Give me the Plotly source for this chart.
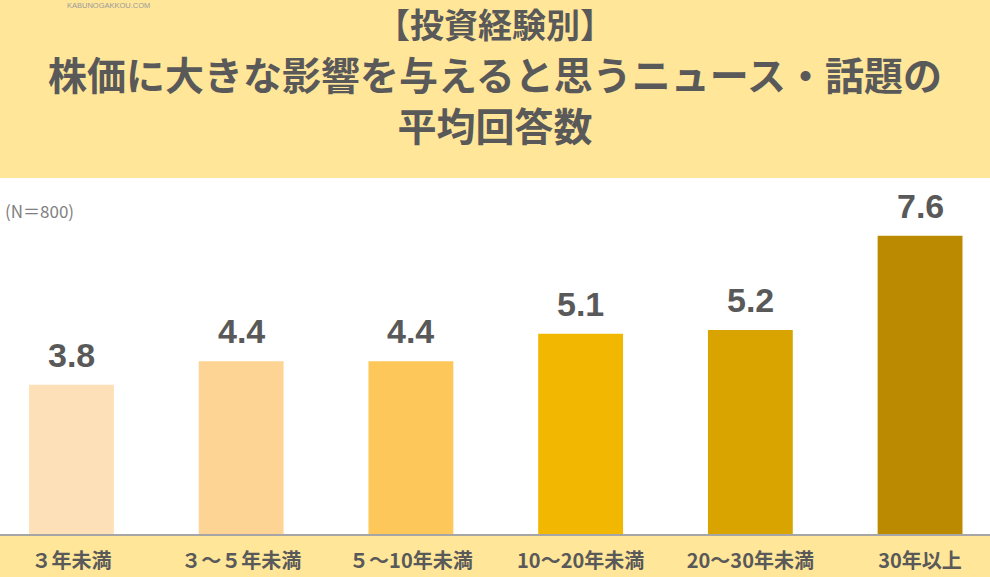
import plotly.graph_objects as go

# categories and values
categories = ["３年未満", "３～５年未満", "５～10年未満", "10～20年未満", "20～30年未満", "30年以上"]
values = [3.8, 4.4, 4.4, 5.1, 5.2, 7.6]
bar_colors = ["#FEE0B8", "#FDD494", "#FEC75A", "#F2B700", "#D9A300", "#BB8A00"]

title_lines = ["【投資経験別】", "株価に大きな影響を与えると思うニュース・話題の", "平均回答数"]
note = "(N＝800)"
watermark = "KABUNOGAKKOU.COM"

W, H = 990, 577
TOP, BOTTOM = 178, 43
JP = "Noto Sans CJK JP"
TEXT = "#595959"


def py(pixel):
    # pixel row -> paper y coordinate (plot area spans TOP..H-BOTTOM)
    return (H - BOTTOM - pixel) / (H - TOP - BOTTOM)


fig = go.Figure()
fig.add_trace(go.Bar(
    x=categories, y=values,
    marker=dict(color=bar_colors, line=dict(width=0)),
    width=0.5, hoverinfo="x+y",
))

annotations = []
for c, v in zip(categories, values):
    annotations.append(dict(
        x=c, y=v, xref="x", yref="y", text=f"{v:.1f}", showarrow=False,
        yanchor="bottom", yshift=9,
        font=dict(family="Liberation Sans, Arial", size=34, color=TEXT, weight="bold"),
    ))

# title: small first line, then the two big lines as one block
annotations.append(dict(
    x=0.5, y=py(24), xref="paper", yref="paper", text=title_lines[0], showarrow=False,
    xanchor="center", yanchor="middle",
    font=dict(family=JP, size=34, color=TEXT, weight="bold"),
))
annotations.append(dict(
    x=0.5, y=py(98.5), xref="paper", yref="paper", text="<br>".join(title_lines[1:]),
    showarrow=False, xanchor="center", yanchor="middle", align="center",
    font=dict(family=JP, size=39, color=TEXT, weight="bold"),
))

annotations.append(dict(
    x=3 / W, y=py(210), xref="paper", yref="paper", text=note, showarrow=False,
    xanchor="left", yanchor="middle",
    font=dict(family=JP, size=17, color="#7F7F7F"),
))
annotations.append(dict(
    x=65 / W, y=py(5), xref="paper", yref="paper", text=watermark, showarrow=False,
    xanchor="left", yanchor="middle",
    font=dict(family="Liberation Sans, Arial", size=7.5, color="#9A9A9A"),
))

fig.update_layout(
    width=W, height=H,
    margin=dict(l=0, r=0, t=TOP, b=BOTTOM, pad=0),
    paper_bgcolor="#FFE699",
    plot_bgcolor="#FFFFFF",
    showlegend=False,
    annotations=annotations,
    bargap=0.5,
)
fig.update_xaxes(
    range=[-0.421, 5.412],
    showline=True, linecolor="#A6A6A6", linewidth=2,
    showgrid=False, ticks="", ticklabelstandoff=8,
    tickfont=dict(family=JP, size=20, color=TEXT, weight="bold"),
    fixedrange=True,
)
fig.update_yaxes(
    range=[0, 9.07], visible=False, showgrid=False, zeroline=False, fixedrange=True,
)

# the page's default body margin would shift the figure off the window edges
fig.write_html(
    "out.html",
    config={"displayModeBar": False},
    post_script="document.body.style.margin='0';document.body.style.overflow='hidden';",
)
